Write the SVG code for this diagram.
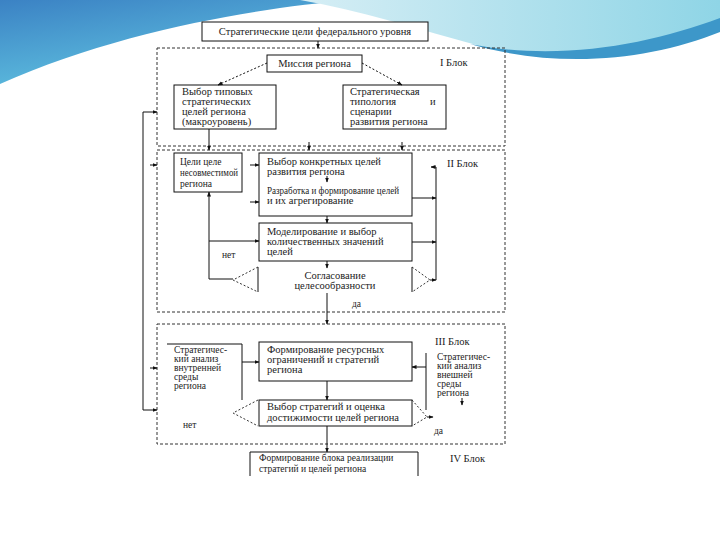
<svg xmlns="http://www.w3.org/2000/svg" width="720" height="540" viewBox="0 0 720 540">
<defs>
<linearGradient id="gL" x1="0" y1="0" x2="0.6" y2="1"><stop offset="0" stop-color="#3b82c4"/><stop offset="1" stop-color="#62c6e2"/></linearGradient>
<linearGradient id="gR" x1="0" y1="0" x2="1" y2="0"><stop offset="0" stop-color="#d6eef5"/><stop offset="1" stop-color="#8fd5e6"/></linearGradient>
<marker id="ah" viewBox="0 0 10 10" refX="9" refY="5" markerWidth="5" markerHeight="5" orient="auto"><path d="M0,1 L10,5 L0,9 Z" fill="#111"/></marker>
<style>
.t{font-family:"Liberation Serif","Times New Roman",serif;font-size:10.5px;fill:#222}
.s{font-family:"Liberation Serif","Times New Roman",serif;font-size:9.5px;fill:#222}
.b{fill:#fff;stroke:#111;stroke-width:1}
.l{fill:none;stroke:#111;stroke-width:1}
.a{fill:none;stroke:#111;stroke-width:1;marker-end:url(#ah)}
.d{fill:none;stroke:#333;stroke-width:1;stroke-dasharray:3,2}
.dt{fill:none;stroke:#333;stroke-width:1;stroke-dasharray:2,2}
</style>
</defs>
<rect width="720" height="540" fill="#fff"/>
<g id="background">
<path d="M0,0 H350 C260,8 120,30 0,84 Z" fill="url(#gL)"/>
<path d="M300,0 H720 V28 C640,55 545,62 480,46 C420,30 360,10 300,0 Z" fill="url(#gR)"/>
<path d="M470,44 C560,62 650,44 720,18 V32 C650,60 560,70 470,44 Z" fill="#3d97c9"/>
</g>
<g id="blocks">
<rect class="d" x="157" y="48" width="348" height="98"/>
<rect class="d" x="157" y="150" width="348" height="162"/>
<rect class="d" x="157" y="324" width="348" height="120"/>
<text class="t" x="440" y="66">I Блок</text>
<text class="t" x="447" y="167">II Блок</text>
<text class="t" x="435" y="345">III Блок</text>
<text class="t" x="450" y="462">IV Блок</text>
</g>
<g id="n-federal">
<rect class="b" x="202" y="22" width="226" height="19"/>
<text class="t" x="315" y="35" text-anchor="middle">Стратегические цели федерального уровня</text>
</g>
<g id="n-mission">
<rect class="b" x="267" y="55" width="95" height="17"/>
<text class="t" x="314.5" y="67" text-anchor="middle">Миссия региона</text>
</g>
<g id="n-typical">
<rect class="b" x="174" y="85" width="102" height="44"/>
<text class="t" x="182" y="95">Выбор типовых</text>
<text class="t" x="182" y="105">стратегических</text>
<text class="t" x="182" y="115">целей региона</text>
<text class="t" x="182" y="125">(макроуровень)</text>
</g>
<g id="n-typology">
<rect class="b" x="343" y="85" width="103" height="44"/>
<text class="t" x="350" y="95">Стратегическая</text>
<text class="t" x="350" y="105">типология</text>
<text class="t" x="430" y="105">и</text>
<text class="t" x="350" y="115">сценарии</text>
<text class="t" x="350" y="125">развития региона</text>
</g>
<g id="n-goals">
<rect class="b" x="174" y="153" width="68" height="39"/>
<text class="s" x="180" y="165">Цели целе</text>
<text class="s" x="180" y="176" textLength="58" lengthAdjust="spacingAndGlyphs">несовместимой</text>
<text class="s" x="180" y="187">региона</text>
</g>
<g id="n-choice">
<rect class="b" x="259" y="153" width="153" height="63"/>
<text class="t" x="267" y="165">Выбор конкретных целей</text>
<text class="t" x="267" y="175">развития региона</text>
<text class="t" x="267" y="194" textLength="132" lengthAdjust="spacingAndGlyphs">Разработка и формирование целей</text>
<text class="t" x="267" y="204">и их агрегирование</text>
</g>
<g id="n-model">
<rect class="b" x="259" y="223" width="153" height="38"/>
<text class="t" x="267" y="235">Моделирование и выбор</text>
<text class="t" x="267" y="245">количественных значений</text>
<text class="t" x="267" y="255">целей</text>
</g>
<g id="n-agree">
<text class="t" x="335" y="279" text-anchor="middle">Согласование</text>
<text class="t" x="335" y="289" text-anchor="middle">целесообразности</text>
<path class="l" d="M258,267 V292"/>
<path class="dt" d="M258,267 L233,280 L258,292"/>
<path class="l" d="M412,267 V292"/>
<path class="dt" d="M412,267 L430,280 L412,292"/>
</g>
<g id="n-internal">
<path class="l" d="M167,344 H242 V400"/>
<text class="s" x="174" y="353">Стратегичес-</text>
<text class="s" x="174" y="362">кий анализ</text>
<text class="s" x="174" y="371">внутренней</text>
<text class="s" x="174" y="380">среды</text>
<text class="s" x="174" y="389">региона</text>
</g>
<g id="n-resources">
<rect class="b" x="259" y="342" width="153" height="39"/>
<text class="t" x="267" y="353">Формирование ресурсных</text>
<text class="t" x="267" y="363">ограничений и стратегий</text>
<text class="t" x="267" y="373">региона</text>
</g>
<g id="n-external">
<text class="s" x="437" y="360">Стратегичес-</text>
<text class="s" x="437" y="369">кий анализ</text>
<text class="s" x="437" y="378">внешней</text>
<text class="s" x="437" y="387">среды</text>
<text class="s" x="437" y="396">региона</text>
</g>
<g id="n-strategy">
<rect class="b" x="259" y="400" width="153" height="26"/>
<text class="t" x="267" y="410">Выбор стратегий и оценка</text>
<text class="t" x="267" y="421">достижимости целей региона</text>
<path class="dt" d="M258,400 L233,413 L258,426"/>
<path class="dt" d="M412,400 L427,417 L412,426"/>
</g>
<g id="n-realization">
<path class="l" d="M250,476 V452 H418 V476"/>
<text class="s" x="259" y="461">Формирование блока реализации</text>
<text class="s" x="259" y="472">стратегий и целей региона</text>
</g>
<g id="connectors">
<path class="a" d="M318,41 V48"/>
<path class="a" d="M267,63 L218,85" stroke-dasharray="2,2"/>
<path class="a" d="M362,63 L402,85" stroke-dasharray="2,2"/>
<path class="a" d="M209,129 V150"/>
<path class="a" d="M309,142 V150"/>
<path class="a" d="M402,142 V150"/>
<path class="a" d="M250,165 H259"/>
<path class="a" d="M250,202 H259"/>
<path class="a" d="M327,176 V182"/>
<path class="a" d="M327,216 V223"/>
<path class="a" d="M327,261 V268"/>
<path class="a" d="M233,279 H209 V192"/>
<path class="a" d="M209,241 H259"/>
<path class="a" d="M412,198 H436"/>
<path class="a" d="M412,242 H436"/>
<path class="a" d="M430,280 H436"/>
<path class="l" d="M436,167 V280"/>
<path class="a" d="M436,167 H431"/>
<path class="a" d="M327,293 V324"/>
<path class="a" d="M242,362 H259"/>
<path class="l" d="M426,353 V410"/>
<path class="a" d="M426,367 H412"/>
<path class="a" d="M462,398 V405"/>
<path class="a" d="M327,381 V400"/>
<path class="a" d="M427,417 H433"/>
<path class="a" d="M327,426 V452"/>
<path class="l" d="M143,112 V410"/>
<path class="a" d="M143,112 H157"/>
<path class="a" d="M143,410 H157"/>
<path class="a" d="M150,165 H157"/>
<path class="a" d="M150,368 H157"/>
<text class="s" x="222" y="258">нет</text>
<text class="s" x="352" y="307">да</text>
<text class="s" x="183" y="428">нет</text>
<text class="s" x="434" y="434">да</text>
</g>
</svg>
